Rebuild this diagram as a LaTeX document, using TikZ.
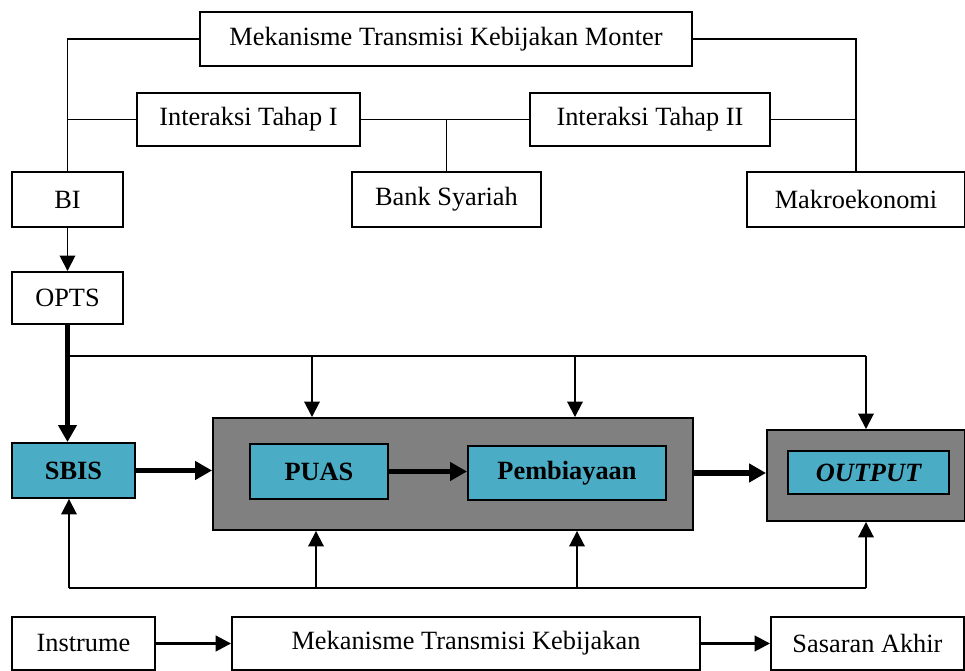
\documentclass[tikz,border=0pt]{standalone}
\usepackage{fontspec}
\setmainfont{Liberation Serif}
\usetikzlibrary{positioning,arrows.meta}
\definecolor{tealfill}{HTML}{4BACC6}
\definecolor{framegray}{HTML}{808080}

\begin{document}
\begin{tikzpicture}[x=0.02cm, y=-0.02cm,
    box/.style={draw, line width=1.1pt, fill=white, inner sep=0pt,
        font=\fontsize{15}{18}\selectfont},
    hotbox/.style={box, fill=tealfill, font=\fontsize{15}{18}\selectfont\bfseries},
    grayframe/.style={draw, line width=1.1pt, fill=framegray, inner sep=0pt},
    link/.style={line width=1.1pt},
    arr/.style={line width=1.1pt, -{Triangle[length=3.1mm, width=3.1mm]}},
    bigarr/.style={line width=3.4pt, -{Triangle[length=3.4mm, width=3.6mm]}},
]
    \useasboundingbox (0,0) rectangle (965,671);

    % upper part
    \node[box, minimum width=9.84cm, minimum height=1.08cm] (mtkm) at (446,39) {Mekanisme Transmisi Kebijakan Monter};
    \node[box, minimum width=4.46cm, minimum height=1.06cm] (tahap1) at (248.5,119.5) {Interaksi Tahap I};
    \node[box, minimum width=4.8cm, minimum height=1.06cm] (tahap2) at (650,119.5) {Interaksi Tahap II};
    \node[box, minimum width=2.22cm, minimum height=1.1cm] (bi) at (67.5,199.5) {BI};
    \node[box, minimum width=3.78cm, minimum height=1.1cm] (bank) at (446.5,199.5) {Bank Syariah};
    \node[box, minimum width=4.36cm, minimum height=1.1cm] (makro) at (856,199.5) {Makroekonomi};
    \node[box, minimum width=2.22cm, minimum height=1.04cm] (opts) at (67.5,298) {OPTS};

    \draw[link] (mtkm.west) -| (bi.north);
    \draw[link] (mtkm.east) -| (makro.north);
    \draw[link] (tahap1.west) -- (tahap1.west -| bi.north);
    \draw[link] (tahap1.east) -- (tahap2.west);
    \draw[link] (bank.north) -- (bank.north |- tahap1.east);
    \draw[link] (tahap2.east) -- (tahap2.east -| makro.north);
    \draw[arr] (bi) -- (opts);

    % middle part
    \node[grayframe, minimum width=9.6cm, minimum height=2.24cm] (frame1) at (453,474) {};
    \node[grayframe, minimum width=3.96cm, minimum height=1.82cm] (frame2) at (866,475.5) {};
    \node[hotbox, minimum width=2.46cm, minimum height=1.1cm] (sbis) at (73.5,470.5) {SBIS};
    \node[hotbox, minimum width=2.76cm, minimum height=1.1cm] (puas) at (319,471.5) {PUAS};
    \node[hotbox, minimum width=3.96cm, minimum height=1.08cm] (pemb) at (567,473) {Pembiayaan};
    \node[hotbox, minimum width=3.22cm, minimum height=0.86cm] (output) at (868.5,472.5) {\itshape OUTPUT};

    \coordinate (top) at (67.5,356);
    \coordinate (bottom) at (69,588);

    \draw[bigarr] (opts.south) -- (opts.south |- sbis.north);
    \draw[link] (top) -- (top -| frame2.north);
    \foreach \x in {312, 575}
        \draw[arr] (top -| \x,0) -- (\x,0 |- frame1.north);
    \draw[arr] (top -| frame2.north) -- (frame2.north);

    \draw[bigarr] (sbis.east) -- (sbis.east -| frame1.west);
    \draw[bigarr] (puas.east) -- (puas.east -| pemb.west);
    \draw[bigarr] (frame1.east |- pemb.east) -- (frame2.west |- pemb.east);

    \draw[link] (bottom) -- (bottom -| frame2.south);
    \draw[arr] (bottom) -- (bottom |- sbis.south);
    \foreach \x in {316, 577}
        \draw[arr] (bottom -| \x,0) -- (\x,0 |- frame1.south);
    \draw[arr] (bottom -| frame2.south) -- (frame2.south);

    % lower part
    \node[box, minimum width=2.86cm, minimum height=1.06cm] (instr) at (83.5,643.5) {Instrume};
    \node[box, minimum width=9.36cm, minimum height=1.06cm] (mtk) at (466,643.5) {Mekanisme Transmisi Kebijakan};
    \node[box, minimum width=3.86cm, minimum height=1.06cm] (akhir) at (867.5,643.5) {Sasaran Akhir};

    \draw[arr, line width=1.6pt] (instr) -- (mtk);
    \draw[arr, line width=1.6pt] (mtk) -- (akhir);
\end{tikzpicture}
\end{document}
